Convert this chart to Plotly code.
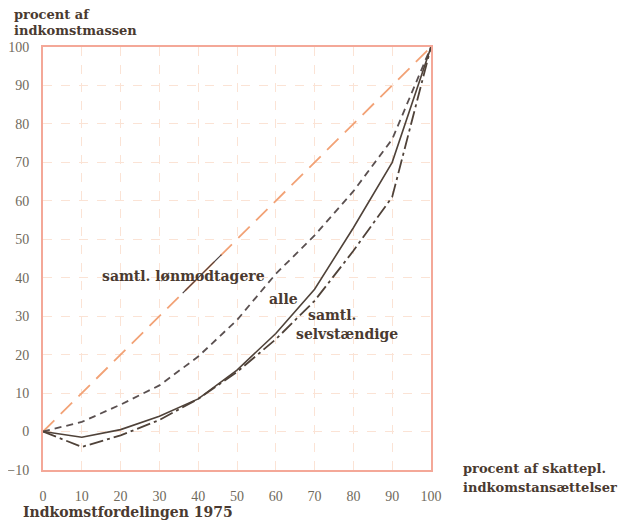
import plotly.graph_objects as go

# ---- data ----
x_pct = [0, 10, 20, 30, 40, 50, 60, 70, 80, 90, 100]
lonmodtagere = [0, 2.5, 7, 12, 19.5, 29, 41, 51, 62.5, 76, 100]
alle = [0, -1.5, 0.5, 4, 8.5, 16, 25.5, 37, 53, 70, 100]
selvstaendige = [0, -4, -1, 3, 8.5, 15.5, 24, 34, 47, 61, 100]
equality_x = [0, 100]
equality_y = [0, 100]
leader_x = [36, 46]
leader_y = [36, 46]

x_ticks = [0, 10, 20, 30, 40, 50, 60, 70, 80, 90, 100]
y_ticks = [-10, 0, 10, 20, 30, 40, 50, 60, 70, 80, 90, 100]

OFF = 8  # page body margin
W, H = 626 - OFF, 521 - OFF
L, R, T, B = 43 - OFF, 195, 47 - OFF, 51
pw, ph = W - L - R, H - T - B

def px(x):
    return (x - OFF - L) / pw

def py(y):
    return (H - B - (y - OFF)) / ph

LINE = "#4f4239"
LBL = "#4a3a30"
TICK = "#6f6a5c"

fig = go.Figure()
fig.add_trace(go.Scatter(x=equality_x, y=equality_y, mode="lines",
                         line=dict(color="#f2a276", width=1.8, dash="16px,9px"),
                         hoverinfo="skip"))
fig.add_trace(go.Scatter(x=leader_x, y=leader_y, mode="lines",
                         line=dict(color="#4a4040", width=1.2), hoverinfo="skip"))
fig.add_trace(go.Scatter(x=x_pct, y=lonmodtagere, mode="lines",
                         line=dict(color="#5a5050", width=1.8, dash="7px,5px")))
fig.add_trace(go.Scatter(x=x_pct, y=alle, mode="lines",
                         line=dict(color=LINE, width=1.6)))
fig.add_trace(go.Scatter(x=x_pct, y=selvstaendige, mode="lines",
                         line=dict(color=LINE, width=1.8, dash="14px,4px,3px,4px")))

ann = []
def text(x, y, s, size=14, xref="x", yref="y", xanchor="center", yanchor="middle"):
    ann.append(dict(x=x, y=y, xref=xref, yref=yref, text=s, showarrow=False,
                    xanchor=xanchor, yanchor=yanchor,
                    font=dict(family="DejaVu Serif", size=size, color=LBL)))

text(36.1, 40.4, "<b>samtl. lønmodtagere</b>")
text(61.9, 34.5, "<b>alle</b>")
text(74.5, 30.3, "<b>samtl.</b>")
text(78.4, 25.4, "<b>selvstændige</b>")
text(px(12), py(15), "<b>procent af</b>", 13, "paper", "paper", "left")
text(px(12), py(31), "<b>indkomstmassen</b>", 13, "paper", "paper", "left")
text(px(461), py(468), "<b>procent af skattepl.</b>", 13, "paper", "paper", "left")
text(px(461), py(487), "<b>indkomstansættelser</b>", 13, "paper", "paper", "left")
text(px(21), py(512), "<b>Indkomstfordelingen 1975</b>", 14, "paper", "paper", "left")

fig.update_layout(
    width=W, height=H,
    margin=dict(l=L, r=R, t=T, b=B, autoexpand=False),
    paper_bgcolor="white", plot_bgcolor="white",
    showlegend=False,
    annotations=ann,
    xaxis=dict(range=[0, 100], tickvals=x_ticks, ticktext=[str(v) for v in x_ticks],
               showgrid=True, gridcolor="#fbe3d5", griddash="dash", gridwidth=1.2,
               showline=True, mirror=True, linecolor="#f4a898", linewidth=2,
               zeroline=False, ticks="", ticklabelstandoff=12, automargin=False,
               tickfont=dict(family="Liberation Serif", size=14, color=TICK)),
    yaxis=dict(range=[-10, 100], tickvals=y_ticks, ticktext=[str(v).replace("-", "−") for v in y_ticks],
               showgrid=True, gridcolor="#fbe3d5", griddash="dash", gridwidth=1.2,
               showline=True, mirror=True, linecolor="#f4a898", linewidth=2,
               zeroline=False, ticks="", ticklabelstandoff=9, automargin=False,
               tickfont=dict(family="Liberation Serif", size=14, color=TICK)),
)

fig.write_html("out.html")
